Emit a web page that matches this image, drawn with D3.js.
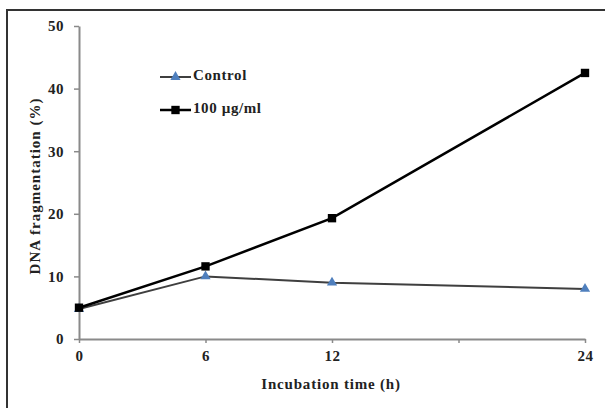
<!DOCTYPE html>
<html>
<head>
<meta charset="utf-8">
<script src="https://cdn.jsdelivr.net/npm/d3@7"></script>
<style>
  body { margin: 0; background: #fff; }
  text { font-family: "Liberation Serif", "Times New Roman", serif; font-weight: bold; fill: #222; }
</style>
</head>
<body>
<div id="main"></div>
<script>
// data
const hours = [0, 6, 12, 24];
const controlValues = [4.8, 10, 9, 8];
const treatedValues = [5, 11.6, 19.3, 42.5];
const seriesNames = ["Control", "100 \u00b5g/ml"];
const xTickValues = [0, 6, 12, 18, 24];
const xTickLabels = ["0", "6", "12", "", "24"];
const yTickValues = [0, 10, 20, 30, 40, 50];

function main() {
  const svgWidth = 605;
  const svgHeight = 408;
  const plotLeft = 79;
  const plotRight = 585;
  const plotTop = 26;
  const plotBottom = 339;

  const axisColor = "#8a8a8a";
  const colorControl = "#3f3f3f";
  const colorMarkerControl = "#4f7fbd";
  const colorTreated = "#000";

  var svg = d3
    .select("#main")
    .append("svg")
    .attr("width", svgWidth)
    .attr("height", svgHeight);

  // outer frame (runs off the right and bottom edges)
  svg.append("path")
    .attr("d", "M7," + (svgHeight + 5) + "V10H" + (svgWidth + 5))
    .attr("fill", "none")
    .attr("stroke", "#333")
    .attr("stroke-width", 2);

  var scaleX = d3.scaleLinear().domain([0, 24]).range([plotLeft, plotRight]);
  var scaleY = d3.scaleLinear().domain([0, 50]).range([plotBottom, plotTop]);

  // ------------  AXIS  ------------
  var xAxis = d3.axisBottom(scaleX)
    .tickValues(xTickValues)
    .tickFormat((d, i) => xTickLabels[i])
    .tickSize(4)
    .tickSizeOuter(0)
    .tickPadding(6);
  var gx = svg.append("g")
    .attr("transform", "translate(0," + plotBottom + ")")
    .call(xAxis);

  var yAxis = d3.axisLeft(scaleY)
    .tickValues(yTickValues)
    .tickSize(5)
    .tickSizeOuter(0)
    .tickPadding(10);
  var gy = svg.append("g")
    .attr("transform", "translate(" + plotLeft + ",0)")
    .call(yAxis);

  [gx, gy].forEach(g => {
    g.attr("font-size", 15).attr("font-family", null);
    g.select(".domain").attr("stroke", axisColor).attr("stroke-width", 2);
    g.selectAll(".tick line").attr("stroke", axisColor).attr("stroke-width", 1.5);
    g.selectAll(".tick text")
      .attr("fill", "#222")
      .style("letter-spacing", "0.5px");
  });
  gx.selectAll(".tick text").attr("dy", "0.8em");

  // ------------  LINES  ------------
  var line = d3.line()
    .x((d, i) => scaleX(hours[i]))
    .y(d => scaleY(d));

  svg.append("path")
    .datum(controlValues)
    .attr("d", line)
    .attr("fill", "none")
    .attr("stroke", colorControl)
    .attr("stroke-width", 2);

  svg.append("path")
    .datum(treatedValues)
    .attr("d", line)
    .attr("fill", "none")
    .attr("stroke", colorTreated)
    .attr("stroke-width", 2.5);

  var triangle = d3.symbol().type(d3.symbolTriangle).size(45);
  var square = d3.symbol().type(d3.symbolSquare).size(70);

  svg.append("g")
    .selectAll("path")
    .data(controlValues)
    .enter()
    .append("path")
    .attr("d", triangle)
    .attr("transform", (d, i) => "translate(" + scaleX(hours[i]) + "," + scaleY(d) + ")")
    .attr("fill", colorMarkerControl);

  svg.append("g")
    .selectAll("path")
    .data(treatedValues)
    .enter()
    .append("path")
    .attr("d", square)
    .attr("transform", (d, i) => "translate(" + scaleX(hours[i]) + "," + scaleY(d) + ")")
    .attr("fill", colorTreated);

  // ------------  LABELS  ------------
  svg.append("text")
    .text("Incubation time (h)")
    .attr("text-anchor", "middle")
    .attr("x", 331)
    .attr("y", 389)
    .attr("font-size", 15)
    .style("letter-spacing", "0.8px");

  svg.append("text")
    .text("DNA fragmentation (%)")
    .attr("text-anchor", "middle")
    .attr("transform", "rotate(-90)")
    .attr("x", -186)
    .attr("y", 40)
    .attr("font-size", 15)
    .style("letter-spacing", "1px");

  // ------------  LEGEND  ------------
  const legX = 160;
  const legY = [77, 110];
  const legLine = 31;
  var legend = svg.append("g");
  legend.selectAll("line")
    .data(seriesNames)
    .enter()
    .append("line")
    .attr("x1", legX)
    .attr("x2", legX + legLine)
    .attr("y1", (d, i) => legY[i])
    .attr("y2", (d, i) => legY[i])
    .attr("stroke", (d, i) => i == 0 ? colorControl : colorTreated)
    .attr("stroke-width", (d, i) => i == 0 ? 2 : 2.5);
  legend.append("path")
    .attr("d", triangle)
    .attr("transform", "translate(" + (legX + legLine / 2) + "," + legY[0] + ")")
    .attr("fill", colorMarkerControl);
  legend.append("path")
    .attr("d", square)
    .attr("transform", "translate(" + (legX + legLine / 2) + "," + legY[1] + ")")
    .attr("fill", colorTreated);
  legend.selectAll("text")
    .data(seriesNames)
    .enter()
    .append("text")
    .attr("x", legX + legLine + 2)
    .attr("y", (d, i) => legY[i])
    .attr("dominant-baseline", "middle")
    .attr("font-size", 15)
    .style("letter-spacing", "0.6px")
    .text(d => d);
}
main();
</script>
</body>
</html>
